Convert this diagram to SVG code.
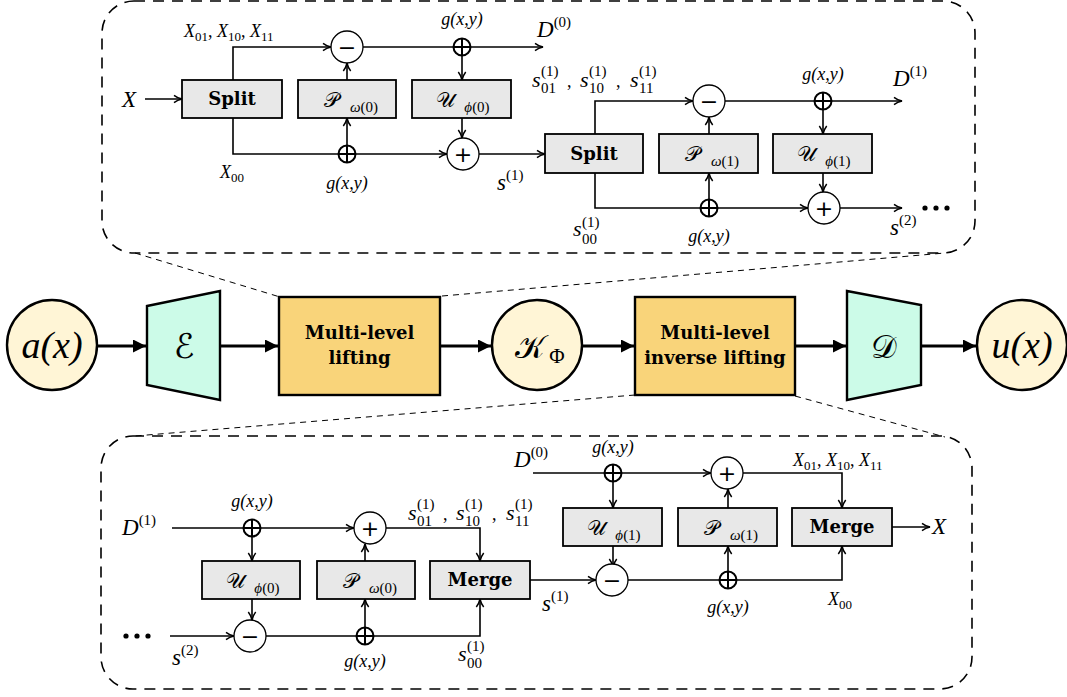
<svg xmlns="http://www.w3.org/2000/svg" width="1067" height="697" viewBox="0 0 1067 697">
<style>
  .panel { fill: none; stroke: #000; stroke-width: 1.6; stroke-dasharray: 11 8; }
  .zoom { fill: none; stroke: #000; stroke-width: 1; stroke-dasharray: 6 5; }
  .blk { fill: #e8e8e8; stroke: #000; stroke-width: 1.8; }
  .ar { fill: none; stroke: #000; stroke-width: 1.6; marker-end: url(#ah); }
  .big { fill: none; stroke: #000; stroke-width: 3; marker-end: url(#bh); }
  .op { fill: #fff; stroke: #000; stroke-width: 1.3; }
  .xo { fill: none; stroke: #000; stroke-width: 2; }
  text { font-family: "Liberation Serif", "DejaVu Serif", serif; }
  .bold { font-family: "DejaVu Serif", "Liberation Serif", serif; font-weight: bold; font-size: 18px; text-anchor: middle; }
  .mi { font-family: "Liberation Serif", "DejaVu Serif", serif; font-style: italic; }
  .rm { font-family: "Liberation Serif", "DejaVu Serif", serif; font-style: normal; }
  .cal { font-family: "DejaVu Serif", "DejaVu Sans", serif; font-style: normal; }
  .opsym { font-family: "DejaVu Sans", sans-serif; font-size: 22px; text-anchor: middle; }
  .big-node { stroke: #000; stroke-width: 2.4; }
</style>
<defs>
  <marker id="ah" viewBox="0 0 10 10" refX="9.5" refY="5" markerWidth="10" markerHeight="10" markerUnits="userSpaceOnUse" orient="auto">
    <path d="M1.5,1.3 Q5,4 9.5,5 Q5,6 1.5,8.7" fill="none" stroke="#000" stroke-width="1.5"/>
  </marker>
  <marker id="bh" viewBox="0 0 12 12" refX="12" refY="6" markerWidth="13" markerHeight="13" markerUnits="userSpaceOnUse" orient="auto">
    <path d="M0,0 L12,6 L0,12 z" fill="#000"/>
  </marker>
  <g id="xor">
    <circle r="8.5" class="xo" fill="#fff"/>
    <path d="M-8.5,0 H8.5 M0,-8.5 V8.5" class="xo"/>
  </g>
</defs>

<!-- dashed zoom-out panels -->
<g id="panel-forward">
  <rect class="panel" x="102" y="1" width="873" height="252" rx="32"/>
</g>
<g id="panel-inverse">
  <rect class="panel" x="101" y="436" width="871" height="253" rx="32"/>
</g>
<g id="zoom-guides">
  <path class="zoom" d="M135,253 L280,297 M442,296 L945,253"/>
  <path class="zoom" d="M635,395 L135,436 M795,396 L945,437"/>
</g>

<!-- main pipeline -->
<g id="connectors-main">
  <path class="big" d="M97,346 H146"/>
  <path class="big" d="M221,346 H278"/>
  <path class="big" d="M440,346 H491"/>
  <path class="big" d="M583,346 H634"/>
  <path class="big" d="M796,346 H846"/>
  <path class="big" d="M922,346 H976"/>
</g>
<g id="node-a">
  <circle cx="52" cy="345" r="45" fill="#fff5d6" class="big-node"/>
  <text x="52" y="358" class="mi" font-size="38" text-anchor="middle">a(x)</text>
</g>
<g id="node-encoder">
  <path d="M147,306 L220,291 L220,400 L147,385 Z" fill="#ccfbe8" class="big-node"/>
  <text x="184" y="358" class="cal" font-size="34" text-anchor="middle">ℰ</text>
</g>
<g id="node-lifting">
  <rect x="279" y="297" width="161" height="98" fill="#f9d47a" class="big-node"/>
  <text x="359.5" y="339" class="bold" font-size="18">Multi-level</text>
  <text x="359.5" y="364" class="bold" font-size="18">lifting</text>
</g>
<g id="node-kernel">
  <circle cx="537" cy="345" r="45" fill="#fff5d6" class="big-node"/>
  <text x="530" y="358" class="cal" font-size="32" text-anchor="middle">𝒦</text>
  <text x="557" y="363" class="rm" font-size="21" text-anchor="middle">Φ</text>
</g>
<g id="node-inverse-lifting">
  <rect x="635" y="297" width="160" height="98" fill="#f9d47a" class="big-node"/>
  <text x="715" y="339" class="bold" font-size="18">Multi-level</text>
  <text x="715" y="364" class="bold" font-size="18">inverse lifting</text>
</g>
<g id="node-decoder">
  <path d="M847,291 L921,305 L921,385 L847,400 Z" fill="#ccfbe8" class="big-node"/>
  <text x="884" y="358" class="cal" font-size="32" text-anchor="middle">𝒟</text>
</g>
<g id="node-u">
  <circle cx="1022" cy="345" r="45" fill="#fff5d6" class="big-node"/>
  <text x="1022" y="358" class="mi" font-size="38" text-anchor="middle">u(x)</text>
</g>

<!-- forward lifting, level 0 and level 1 -->
<g id="connectors-forward">
  <path class="ar" d="M145,99 H182"/>
  <path class="ar" d="M233,80 V47 H331"/>
  <path class="ar" d="M363,47 H543"/>
  <path class="ar" d="M462,55 V80"/>
  <path class="ar" d="M462,118 V138"/>
  <path class="ar" d="M233,118 V154 H447"/>
  <path class="ar" d="M347,146 V118"/>
  <path class="ar" d="M347,80 V63"/>
  <path class="ar" d="M479,154 H545"/>

  <path class="ar" d="M595,134 V101 H693"/>
  <path class="ar" d="M725,101 H902"/>
  <path class="ar" d="M823,109 V134"/>
  <path class="ar" d="M823,173 V192"/>
  <path class="ar" d="M595,173 V208 H808"/>
  <path class="ar" d="M709,200 V173"/>
  <path class="ar" d="M709,134 V117"/>
  <path class="ar" d="M840,208 H902"/>
</g>

<g id="split-0"><rect class="blk" x="182" y="80" width="100" height="38"/><text class="bold" x="232" y="105">Split</text></g>
<g id="predict-0"><rect class="blk" x="298" y="80" width="98" height="38"/>
  <text x="331" y="107" class="cal" font-size="21" text-anchor="middle">𝒫</text>
  <text x="364" y="112" class="mi" font-size="15" text-anchor="middle">ω<tspan class="rm">(0)</tspan></text></g>
<g id="update-0"><rect class="blk" x="412" y="80" width="99" height="38"/>
  <text x="445" y="107" class="cal" font-size="21" text-anchor="middle">𝒰</text>
  <text x="477" y="112" class="mi" font-size="15" text-anchor="middle">ϕ<tspan class="rm">(0)</tspan></text></g>
<g id="sub-0"><circle class="op" cx="347" cy="47" r="16"/><text class="opsym" x="347" y="55">−</text></g>
<g id="add-0"><circle class="op" cx="463" cy="154" r="16"/><text class="opsym" x="463" y="162">+</text></g>
<g id="noise-0a"><use href="#xor" x="462" y="47"/></g>
<g id="noise-0b"><use href="#xor" x="347" y="154"/></g>

<g id="split-1"><rect class="blk" x="545" y="134" width="98" height="39"/><text class="bold" x="594" y="160">Split</text></g>
<g id="predict-1"><rect class="blk" x="659" y="134" width="99" height="39"/>
  <text x="692" y="161" class="cal" font-size="21" text-anchor="middle">𝒫</text>
  <text x="725" y="166" class="mi" font-size="15" text-anchor="middle">ω<tspan class="rm">(1)</tspan></text></g>
<g id="update-1"><rect class="blk" x="773" y="134" width="99" height="39"/>
  <text x="806" y="161" class="cal" font-size="21" text-anchor="middle">𝒰</text>
  <text x="838" y="166" class="mi" font-size="15" text-anchor="middle">ϕ<tspan class="rm">(1)</tspan></text></g>
<g id="sub-1"><circle class="op" cx="709" cy="101" r="16"/><text class="opsym" x="709" y="109">−</text></g>
<g id="add-1"><circle class="op" cx="824" cy="208" r="16"/><text class="opsym" x="824" y="216">+</text></g>
<g id="noise-1a"><use href="#xor" x="823" y="101"/></g>
<g id="noise-1b"><use href="#xor" x="709" y="208"/></g>

<g id="labels-forward">
  <text x="122" y="107" class="mi" font-size="23">X</text>
  <text x="184" y="37" class="mi" font-size="18">X<tspan class="rm" font-size="13" dy="4">01</tspan><tspan class="rm" dy="-4">, </tspan>X<tspan class="rm" font-size="13" dy="4">10</tspan><tspan class="rm" dy="-4">, </tspan>X<tspan class="rm" font-size="13" dy="4">11</tspan></text>
  <text x="462" y="25" class="mi" font-size="18" text-anchor="middle">g(x,y)</text>
  <text x="537" y="37" class="mi" font-size="23">D<tspan class="rm" font-size="15" dy="-10">(0)</tspan></text>
  <text x="220" y="178" class="mi" font-size="18">X<tspan class="rm" font-size="13" dy="4">00</tspan></text>
  <text x="347" y="189" class="mi" font-size="18" text-anchor="middle">g(x,y)</text>
  <text x="497" y="190" class="mi" font-size="23">s<tspan class="rm" font-size="15" dy="-10">(1)</tspan></text>

  <text x="532" y="87" class="mi" font-size="22">s</text><text x="541" y="76" class="rm" font-size="15">(1)</text><text x="541" y="93" class="rm" font-size="15">01</text><text x="567" y="87" class="rm" font-size="18">,</text>
  <text x="580" y="87" class="mi" font-size="22">s</text><text x="589" y="76" class="rm" font-size="15">(1)</text><text x="589" y="93" class="rm" font-size="15">10</text><text x="616" y="87" class="rm" font-size="18">,</text>
  <text x="630" y="87" class="mi" font-size="22">s</text><text x="639" y="76" class="rm" font-size="15">(1)</text><text x="639" y="93" class="rm" font-size="15">11</text>
  <text x="823" y="80" class="mi" font-size="18" text-anchor="middle">g(x,y)</text>
  <text x="893" y="86" class="mi" font-size="23">D<tspan class="rm" font-size="15" dy="-10">(1)</tspan></text>

  <text x="573" y="236" class="mi" font-size="22">s</text><text x="582" y="227" class="rm" font-size="15">(1)</text><text x="582" y="244" class="rm" font-size="15">00</text>
  <text x="709" y="242" class="mi" font-size="18" text-anchor="middle">g(x,y)</text>
  <text x="890" y="235" class="mi" font-size="23">s<tspan class="rm" font-size="15" dy="-10">(2)</tspan></text>
  <circle cx="925" cy="208" r="2.6"/><circle cx="936" cy="208" r="2.6"/><circle cx="947" cy="208" r="2.6"/>
</g>

<!-- inverse lifting, level 1 then level 0 -->
<g id="connectors-inverse">
  <path class="ar" d="M172,528 H354"/>
  <path class="ar" d="M252,536 V561"/>
  <path class="ar" d="M252,599 V620"/>
  <path class="ar" d="M170,636 H234"/>
  <path class="ar" d="M266,636 H480 V599"/>
  <path class="ar" d="M365,628 V599"/>
  <path class="ar" d="M365,561 V544"/>
  <path class="ar" d="M386,528 H480 V561"/>
  <path class="ar" d="M530,580 H596"/>

  <path class="ar" d="M533,473 H711"/>
  <path class="ar" d="M613,481 V508"/>
  <path class="ar" d="M613,546 V567"/>
  <path class="ar" d="M628,580 H842 V546"/>
  <path class="ar" d="M728,572 V546"/>
  <path class="ar" d="M728,508 V489"/>
  <path class="ar" d="M743,473 H842 V508"/>
  <path class="ar" d="M892,527 H930"/>
</g>

<g id="update-inv-0"><rect class="blk" x="202" y="561" width="98" height="38"/>
  <text x="235" y="588" class="cal" font-size="21" text-anchor="middle">𝒰</text>
  <text x="267" y="593" class="mi" font-size="15" text-anchor="middle">ϕ<tspan class="rm">(0)</tspan></text></g>
<g id="predict-inv-0"><rect class="blk" x="317" y="561" width="98" height="38"/>
  <text x="350" y="588" class="cal" font-size="21" text-anchor="middle">𝒫</text>
  <text x="383" y="593" class="mi" font-size="15" text-anchor="middle">ω<tspan class="rm">(0)</tspan></text></g>
<g id="merge-1"><rect class="blk" x="430" y="561" width="100" height="38"/><text class="bold" x="480" y="586">Merge</text></g>
<g id="add-inv-0"><circle class="op" cx="370" cy="528" r="16"/><text class="opsym" x="370" y="536">+</text></g>
<g id="sub-inv-0"><circle class="op" cx="250" cy="636" r="16"/><text class="opsym" x="250" y="644">−</text></g>
<g id="noise-inv-0a"><use href="#xor" x="252" y="528"/></g>
<g id="noise-inv-0b"><use href="#xor" x="365" y="636"/></g>

<g id="update-inv-1"><rect class="blk" x="563" y="508" width="99" height="38"/>
  <text x="596" y="535" class="cal" font-size="21" text-anchor="middle">𝒰</text>
  <text x="628" y="540" class="mi" font-size="15" text-anchor="middle">ϕ<tspan class="rm">(1)</tspan></text></g>
<g id="predict-inv-1"><rect class="blk" x="678" y="508" width="99" height="38"/>
  <text x="711" y="535" class="cal" font-size="21" text-anchor="middle">𝒫</text>
  <text x="744" y="540" class="mi" font-size="15" text-anchor="middle">ω<tspan class="rm">(1)</tspan></text></g>
<g id="merge-0"><rect class="blk" x="792" y="508" width="100" height="38"/><text class="bold" x="842" y="533">Merge</text></g>
<g id="add-inv-1"><circle class="op" cx="727" cy="473" r="16"/><text class="opsym" x="727" y="481">+</text></g>
<g id="sub-inv-1"><circle class="op" cx="612" cy="580" r="16"/><text class="opsym" x="612" y="588">−</text></g>
<g id="noise-inv-1a"><use href="#xor" x="613" y="473"/></g>
<g id="noise-inv-1b"><use href="#xor" x="728" y="580"/></g>

<g id="labels-inverse">
  <text x="122" y="535" class="mi" font-size="23">D<tspan class="rm" font-size="15" dy="-10">(1)</tspan></text>
  <text x="252" y="507" class="mi" font-size="18" text-anchor="middle">g(x,y)</text>
  <text x="408" y="520" class="mi" font-size="22">s</text><text x="417" y="509" class="rm" font-size="15">(1)</text><text x="417" y="526" class="rm" font-size="15">01</text><text x="443" y="520" class="rm" font-size="18">,</text>
  <text x="456" y="520" class="mi" font-size="22">s</text><text x="465" y="509" class="rm" font-size="15">(1)</text><text x="465" y="526" class="rm" font-size="15">10</text><text x="492" y="520" class="rm" font-size="18">,</text>
  <text x="506" y="520" class="mi" font-size="22">s</text><text x="515" y="509" class="rm" font-size="15">(1)</text><text x="515" y="526" class="rm" font-size="15">11</text>
  <circle cx="126" cy="636" r="2.6"/><circle cx="137" cy="636" r="2.6"/><circle cx="148" cy="636" r="2.6"/>
  <text x="172" y="665" class="mi" font-size="23">s<tspan class="rm" font-size="15" dy="-10">(2)</tspan></text>
  <text x="365" y="667" class="mi" font-size="18" text-anchor="middle">g(x,y)</text>
  <text x="458" y="661" class="mi" font-size="22">s</text><text x="467" y="651" class="rm" font-size="15">(1)</text><text x="467" y="668" class="rm" font-size="15">00</text>
  <text x="542" y="611" class="mi" font-size="23">s<tspan class="rm" font-size="15" dy="-10">(1)</tspan></text>

  <text x="514" y="467" class="mi" font-size="23">D<tspan class="rm" font-size="15" dy="-10">(0)</tspan></text>
  <text x="613" y="453" class="mi" font-size="18" text-anchor="middle">g(x,y)</text>
  <text x="793" y="466" class="mi" font-size="18">X<tspan class="rm" font-size="13" dy="4">01</tspan><tspan class="rm" dy="-4">, </tspan>X<tspan class="rm" font-size="13" dy="4">10</tspan><tspan class="rm" dy="-4">, </tspan>X<tspan class="rm" font-size="13" dy="4">11</tspan></text>
  <text x="932" y="534" class="mi" font-size="23">X</text>
  <text x="728" y="613" class="mi" font-size="18" text-anchor="middle">g(x,y)</text>
  <text x="828" y="605" class="mi" font-size="18">X<tspan class="rm" font-size="13" dy="4">00</tspan></text>
</g>
</svg>
